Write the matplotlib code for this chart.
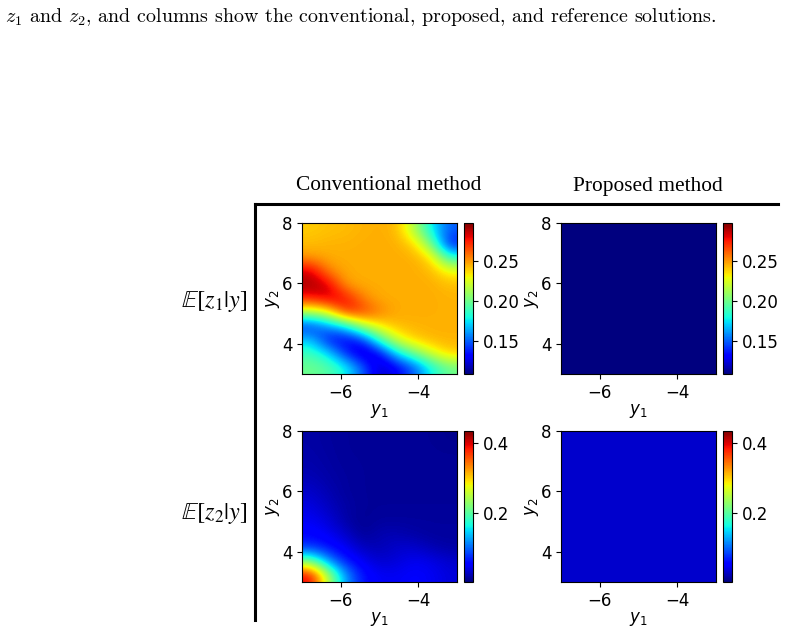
import numpy as np
import matplotlib
matplotlib.use("Agg")
import matplotlib.pyplot as plt
from matplotlib.lines import Line2D

plt.rcParams["font.family"] = "DejaVu Sans"

# grid of the heat maps: y1 across, y2 down (top row is y2 = 8)
y1_range = [-7, -3]
y2_range = [3, 8]

# E[z1|y], conventional method (rows y2 = 8, 7.5, ..., 3; cols y1 = -7, -6.5, ..., -3)
z1_conv = [
    [0.240, 0.242, 0.243, 0.245, 0.246, 0.244, 0.215, 0.175, 0.150],
    [0.243, 0.245, 0.245, 0.246, 0.246, 0.246, 0.238, 0.200, 0.135],
    [0.250, 0.246, 0.246, 0.246, 0.246, 0.246, 0.246, 0.235, 0.185],
    [0.285, 0.255, 0.246, 0.246, 0.246, 0.246, 0.246, 0.244, 0.230],
    [0.292, 0.285, 0.250, 0.246, 0.246, 0.246, 0.246, 0.246, 0.243],
    [0.275, 0.285, 0.280, 0.255, 0.246, 0.246, 0.246, 0.246, 0.245],
    [0.215, 0.228, 0.272, 0.270, 0.255, 0.246, 0.246, 0.246, 0.245],
    [0.140, 0.160, 0.175, 0.215, 0.235, 0.244, 0.245, 0.245, 0.245],
    [0.170, 0.135, 0.130, 0.140, 0.190, 0.225, 0.240, 0.245, 0.245],
    [0.190, 0.175, 0.140, 0.120, 0.130, 0.175, 0.200, 0.225, 0.240],
    [0.200, 0.195, 0.180, 0.150, 0.120, 0.130, 0.150, 0.180, 0.200],
]
# E[z1|y], proposed method: flat
z1_prop = [[0.105] * 9 for _ in range(11)]

# E[z2|y], conventional method
z2_conv = [
    [0.015, 0.012, 0.010, 0.010, 0.010, 0.010, 0.010, 0.008, 0.006],
    [0.016, 0.013, 0.010, 0.010, 0.010, 0.010, 0.010, 0.009, 0.008],
    [0.018, 0.014, 0.011, 0.010, 0.010, 0.010, 0.010, 0.010, 0.010],
    [0.022, 0.016, 0.012, 0.010, 0.010, 0.010, 0.010, 0.010, 0.010],
    [0.030, 0.020, 0.012, 0.010, 0.010, 0.010, 0.010, 0.010, 0.010],
    [0.038, 0.025, 0.015, 0.010, 0.010, 0.010, 0.010, 0.010, 0.010],
    [0.045, 0.035, 0.015, 0.008, 0.012, 0.012, 0.012, 0.012, 0.012],
    [0.055, 0.045, 0.030, 0.008, 0.020, 0.020, 0.015, 0.012, 0.012],
    [0.075, 0.060, 0.045, 0.025, 0.020, 0.030, 0.030, 0.020, 0.015],
    [0.220, 0.120, 0.065, 0.045, 0.030, 0.035, 0.045, 0.040, 0.030],
    [0.400, 0.250, 0.120, 0.060, 0.045, 0.045, 0.050, 0.045, 0.035],
]
# E[z2|y], proposed method: flat
z2_prop = [[0.030] * 9 for _ in range(11)]

row_lims = [(0.109, 0.298), (0.0, 0.435)]
row_ticks = [[0.15, 0.20, 0.25], [0.2, 0.4]]
row_fmt = ["%.2f", "%.1f"]
col_titles = ["Conventional method", "Proposed method"]
row_titles = [r"$\mathbb{E}[z_1|y]$", r"$\mathbb{E}[z_2|y]$"]
caption = r"$z_1$ and $z_2$, and columns show the conventional, proposed, and reference solutions."

W, H = 786, 632
fig = plt.figure(figsize=(W / 100, H / 100), dpi=100)

def px(x0, y0, w, h):
    # pixel box (top-left origin) -> figure fraction
    return [x0 / W, 1 - (y0 + h) / H, w / W, h / H]

ax_left = [302, 561]
cb_left = [464, 723]
ax_top = [223, 431]

grids = [[z1_conv, z1_prop], [z2_conv, z2_prop]]
for r in range(2):
    vmin, vmax = row_lims[r]
    for c in range(2):
        ax = fig.add_axes(px(ax_left[c], ax_top[r], 155, 151))
        im = ax.imshow(np.array(grids[r][c]), cmap="jet", vmin=vmin, vmax=vmax,
                       extent=[y1_range[0], y1_range[1], y2_range[0], y2_range[1]],
                       aspect="auto", interpolation="bicubic")
        ax.set_xticks([-6, -4])
        ax.set_yticks([4, 6, 8])
        ax.tick_params(labelsize=12)
        ax.set_xlabel(r"$y_1$", fontsize=12, labelpad=0)
        ax.set_ylabel(r"$y_2$", fontsize=12, labelpad=0)
        cax = fig.add_axes(px(cb_left[c], ax_top[r], 9, 151))
        cb = fig.colorbar(im, cax=cax, ticks=row_ticks[r], format=row_fmt[r])
        cb.ax.tick_params(labelsize=12)

# column and row headers
fig.text(389 / W, 1 - 186 / H, col_titles[0], family="Liberation Serif",
         fontsize=15.4, ha="center", va="center")
fig.text(648 / W, 1 - 186 / H, col_titles[1], family="Liberation Serif",
         fontsize=15.4, ha="center", va="center")
fig.text(247 / W, 1 - 302 / H, row_titles[0], fontsize=17.5, math_fontfamily="stix",
         ha="right", va="center")
fig.text(247 / W, 1 - 513 / H, row_titles[1], fontsize=17.5, math_fontfamily="stix",
         ha="right", va="center")

# table rules
fig.add_artist(Line2D([255 / W, 778 / W], [1 - 204 / H, 1 - 204 / H], color="black", lw=2.2))
fig.add_artist(Line2D([255 / W, 255 / W], [1 - 204 / H, 1 - 620 / H], color="black", lw=2.2))

# caption line from the paper
fig.text(5 / W, 1 - 17 / H, caption, family="cmr10", math_fontfamily="cm",
         fontsize=14.4, ha="left", va="center")

fig.savefig("out.png", dpi=100)
